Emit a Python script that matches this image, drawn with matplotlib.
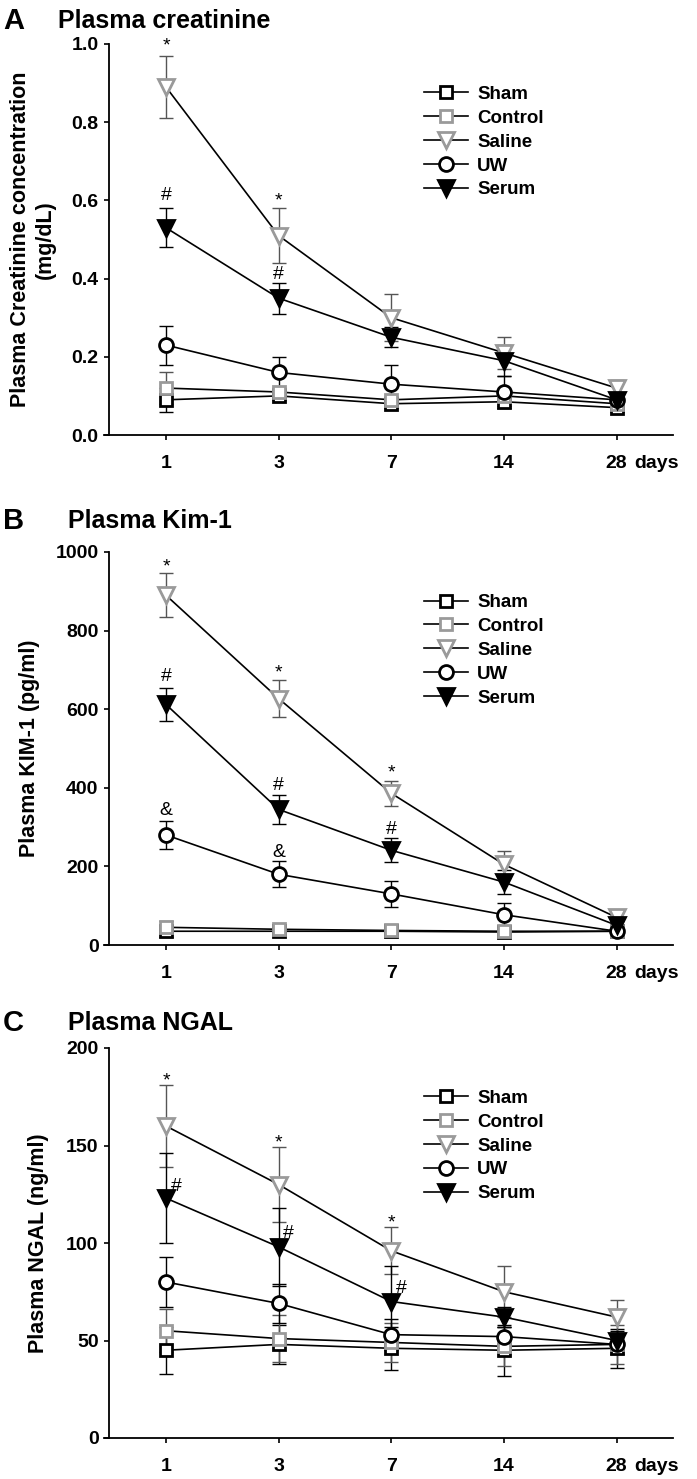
import numpy as np
import matplotlib.pyplot as plt

plt.rcParams['font.family'] = ['Liberation Sans', 'DejaVu Sans']
plt.rcParams['font.weight'] = 'bold'

days = ['1', '3', '7', '14', '28']
groups = ['Sham', 'Control', 'Saline', 'UW', 'Serum']

# A: plasma creatinine (mg/dL), rows follow `groups`
crea_mean = [[0.09, 0.10, 0.08, 0.085, 0.07],
             [0.12, 0.11, 0.09, 0.10, 0.08],
             [0.89, 0.51, 0.30, 0.21, 0.12],
             [0.23, 0.16, 0.13, 0.11, 0.09],
             [0.53, 0.35, 0.25, 0.19, 0.09]]
crea_sd = [[0.03, 0.01, 0.01, 0.01, 0.01],
           [0.04, 0.01, 0.01, 0.01, 0.01],
           [0.08, 0.07, 0.06, 0.04, 0.02],
           [0.05, 0.04, 0.05, 0.04, 0.01],
           [0.05, 0.04, 0.025, 0.04, 0.01]]
crea_marks = [(0, 1.013, '*'), (0, 0.619, '#'), (1, 0.616, '*'), (1, 0.418, '#')]

# B: plasma KIM-1 (pg/ml)
kim_mean = [[35, 35, 35, 33, 35],
            [45, 40, 37, 35, 35],
            [890, 627, 386, 205, 70],
            [280, 180, 130, 77, 35],
            [612, 345, 241, 160, 50]]
kim_sd = [[15, 12, 10, 12, 10],
          [15, 12, 10, 12, 10],
          [56, 48, 32, 35, 20],
          [36, 33, 34, 30, 10],
          [43, 36, 30, 30, 10]]
kim_marks = [(0, 981, '*'), (0, 689, '#'), (0, 349, '&'),
             (1, 711, '*'), (1, 413, '#'), (1, 242, '&'),
             (2, 456, '*'), (2, 299, '#')]

# C: plasma NGAL (ng/ml)
ngal_mean = [[45, 48, 46, 45, 46],
             [55, 51, 49, 47, 48],
             [160, 130, 96, 75, 62],
             [80, 69, 53, 52, 48],
             [123, 98, 70, 62, 50]]
ngal_sd = [[12, 10, 11, 13, 10],
           [11, 12, 10, 10, 10],
           [21, 19, 12, 13, 9],
           [13, 10, 8, 5, 5],
           [23, 20, 18, 5, 5]]
ngal_marks = [(0, 187, '*'), (0, 130, '#'), (1, 155, '*'), (1, 106, '#'),
              (2, 114, '*'), (2, 78, '#')]

GREY = '#9a9a9a'
styles = {
    'Sham':    dict(marker='s', ms=9, mfc='white', mec='black', ecolor='black'),
    'Control': dict(marker='s', ms=9, mfc='white', mec=GREY, ecolor='#555555'),
    'Saline':  dict(marker='v', ms=11, mfc='white', mec=GREY, ecolor='#555555'),
    'UW':      dict(marker='o', ms=10, mfc='white', mec='black', ecolor='black'),
    'Serum':   dict(marker='v', ms=11, mfc='black', mec='black', ecolor='black'),
}
# baseline offset (points) so the symbol's visual centre sits on the given value
sym_off = {'*': -8.5, '#': -5, '&': -5}

fig = plt.figure(figsize=(6.97, 14.79), dpi=100)
L, W = 104 / 697, 569 / 697


def panel(top_px, bot_px, mean, sd, marks, ymax, ystep, fmt, ylabel, lab_x,
          letter, title, title_x, title_y, hash_dx=0.0):
    ax = fig.add_axes([L, 1 - bot_px / 1479, W, (bot_px - top_px) / 1479])
    x = np.arange(len(days))
    for g, m, s in zip(groups, mean, sd):
        st = styles[g]
        ax.errorbar(x, m, yerr=s, fmt='none', ecolor=st['ecolor'], elinewidth=1,
                    capsize=5, capthick=1, zorder=2)
        ax.plot(x, m, color='black', lw=1.2, marker=st['marker'], ms=st['ms'],
                mfc=st['mfc'], mec=st['mec'], mew=2, label=g, zorder=3)
    for xi, yv, sym in marks:
        dx = hash_dx if sym == '#' else 0.0
        ax.annotate(sym, xy=(xi + dx, yv), xytext=(0, sym_off[sym]),
                    textcoords='offset points', ha='center', va='baseline',
                    fontsize=14, fontweight='normal', annotation_clip=False)
    ax.set_xlim(-0.55, 4.5)
    ax.set_ylim(0, ymax)
    ax.spines['left'].set_position(('data', -0.51))
    for sp in ['top', 'right']:
        ax.spines[sp].set_visible(False)
    for sp in ['left', 'bottom']:
        ax.spines[sp].set_linewidth(1.3)
    ax.set_xticks(x, days)
    yt = np.arange(0, ymax + ystep / 2, ystep)
    ax.set_yticks(yt, [fmt.format(v) for v in yt])
    ax.tick_params(axis='both', direction='out', length=3.6, width=1.2,
                   labelsize=14)
    ax.tick_params(axis='x', pad=10.5)
    ax.tick_params(axis='y', pad=3.6)
    ax.annotate('days', xy=(4.35, 0), xycoords=('data', 'axes fraction'),
                xytext=(0, -14.1), textcoords='offset points', ha='center',
                va='top', fontsize=14, fontweight='bold')
    ax.set_ylabel(ylabel, fontsize=15.5, fontweight='bold', linespacing=1.25)
    ax.yaxis.set_label_coords(lab_x, 0.5)
    ax.legend(loc='upper left', bbox_to_anchor=(0.562, 0.893), frameon=False,
              prop={'size': 13.5, 'weight': 'bold'}, handlelength=2.35,
              handletextpad=0.5, labelspacing=0.36, borderpad=0,
              borderaxespad=0)
    fig.text(3 / 697, 1 - title_y / 1479, letter, fontsize=21,
             fontweight='bold', va='center', ha='left')
    fig.text(title_x / 697, 1 - title_y / 1479, title, fontsize=18,
             fontweight='bold', va='center', ha='left')
    return ax


panel(44, 435, crea_mean, crea_sd, crea_marks, 1.0, 0.2, '{:.1f}',
      'Plasma Creatinine concentration\n(mg/dL)', -0.084,
      'A', 'Plasma creatinine', 58, 21)
panel(552, 945, kim_mean, kim_sd, kim_marks, 1000, 200, '{:.0f}',
      'Plasma KIM-1 (pg/ml)', -0.112,
      'B', 'Plasma Kim-1', 68, 521)
panel(1048, 1438, ngal_mean, ngal_sd, ngal_marks, 200, 50, '{:.0f}',
      'Plasma NGAL (ng/ml)', -0.097,
      'C', 'Plasma NGAL', 68, 1023, hash_dx=0.09)

fig.savefig('out.png', dpi=100)
